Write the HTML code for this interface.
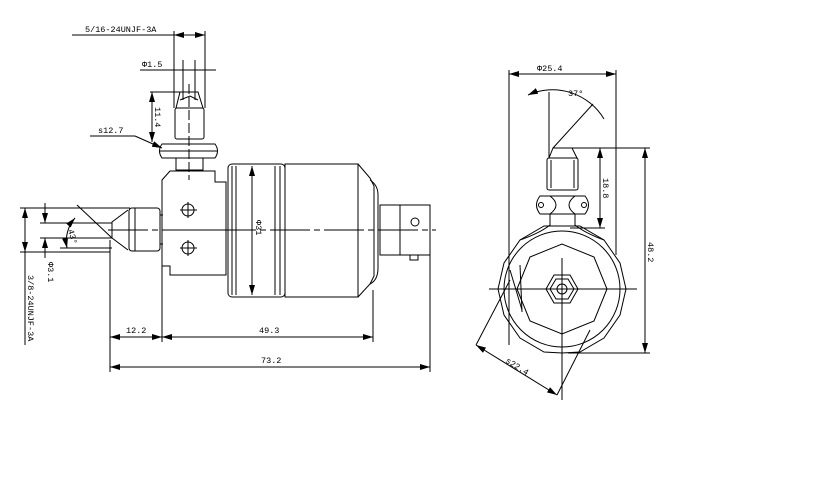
<!DOCTYPE html>
<html><head><style>html,body{margin:0;padding:0;background:#fff}svg{display:block}text{font-family:"Liberation Mono",monospace;font-size:8.5px;fill:#000}</style></head><body>
<svg width="820" height="481" viewBox="0 0 820 481" xmlns="http://www.w3.org/2000/svg">
<defs><marker id="a" viewBox="0 0 10 6" refX="10" refY="3" markerWidth="10" markerHeight="6" orient="auto-start-reverse"><path d="M0,0L10,3L0,6z" fill="#000"/></marker></defs>
<g stroke="#000" stroke-width="1" fill="none">
<line x1="72" y1="35" x2="174" y2="35"/>
<line x1="174" y1="35" x2="205" y2="35" marker-start="url(#a)" marker-end="url(#a)"/>
<line x1="174" y1="31" x2="174" y2="108"/><line x1="205" y1="31" x2="205" y2="108"/>
<line x1="140" y1="70" x2="216" y2="70"/>
<line x1="183" y1="60" x2="183" y2="100"/><line x1="195" y1="60" x2="195" y2="100"/>
<line x1="150" y1="92" x2="185" y2="92"/>
<line x1="152" y1="92" x2="152" y2="142" marker-start="url(#a)" marker-end="url(#a)"/>
<line x1="90" y1="136" x2="135" y2="136"/><line x1="135" y1="136" x2="162" y2="148" marker-end="url(#a)"/>
<path d="M176,108 L180,92 L198,92 L203,108 Z"/>
<path d="M180,100 L190,96 L198,100"/>
<rect x="175" y="108" width="29" height="31" rx="2"/>
<path d="M162,144 L215,144 Q220,151 215,158 L162,158 Q157,151 162,144 Z"/>
<line x1="160" y1="151" x2="217" y2="151"/>
<rect x="176" y="158" width="27" height="12"/>
<line x1="189" y1="84" x2="189" y2="180" stroke-dasharray="10,3"/>
<path d="M170,171 L215,171 L215,182 L226,182 L226,275 L170,275 L170,266 L162,266 L162,180 Z"/>
<line x1="162" y1="230" x2="226" y2="230"/>
<circle cx="188" cy="210" r="6"/><line x1="180" y1="210" x2="197" y2="210"/><line x1="188" y1="202" x2="188" y2="218"/>
<circle cx="188" cy="248" r="6"/><line x1="180" y1="248" x2="197" y2="248"/><line x1="188" y1="240" x2="188" y2="256"/>
<path d="M128,210 L112,222 L112,238 L128,250"/>
<rect x="129" y="208" width="31" height="43" rx="3"/>
<line x1="135" y1="208" x2="135" y2="251"/>
<line x1="160" y1="215" x2="163" y2="215"/><line x1="160" y1="244" x2="163" y2="244"/>
<rect x="228" y="164" width="57" height="133" rx="4"/>
<line x1="232" y1="166" x2="232" y2="295"/><line x1="236" y1="166" x2="236" y2="295"/>
<line x1="275" y1="166" x2="275" y2="295"/><line x1="280" y1="166" x2="280" y2="295"/>
<rect x="285" y="164" width="73" height="133"/>
<path d="M358,164 L370,178 L374,186 L374,276 L370,284 L358,297"/>
<path d="M370,180 Q378,185 378,195 L378,268 Q378,280 370,284"/>
<rect x="380" y="205" width="50" height="50"/>
<line x1="400" y1="205" x2="400" y2="255"/>
<circle cx="415" cy="222" r="4"/>
<rect x="410" y="255" width="8" height="5"/>
<line x1="108" y1="230" x2="436" y2="230" stroke-dasharray="40,4,6,4"/>
<line x1="252" y1="166" x2="252" y2="295" marker-start="url(#a)" marker-end="url(#a)"/>
<line x1="20" y1="208" x2="130" y2="208"/><line x1="20" y1="252" x2="110" y2="252"/>
<line x1="25" y1="208" x2="25" y2="252" marker-start="url(#a)" marker-end="url(#a)"/>
<line x1="25" y1="252" x2="25" y2="345"/>
<line x1="40" y1="223" x2="112" y2="223"/><line x1="40" y1="238" x2="112" y2="238"/>
<line x1="45" y1="203" x2="45" y2="223" marker-end="url(#a)"/><line x1="45" y1="238" x2="45" y2="258" marker-start="url(#a)"/>
<line x1="77" y1="205" x2="112" y2="238"/>
<path d="M75,218 A35,35 0 0 0 67,248" marker-start="url(#a)" marker-end="url(#a)"/>
<line x1="60" y1="248" x2="112" y2="248"/>
<line x1="110" y1="240" x2="110" y2="372"/><line x1="162" y1="266" x2="162" y2="342"/>
<line x1="373" y1="290" x2="373" y2="342"/><line x1="430" y1="255" x2="430" y2="372"/>
<line x1="110" y1="337" x2="162" y2="337" marker-start="url(#a)" marker-end="url(#a)"/>
<line x1="162" y1="337" x2="373" y2="337" marker-start="url(#a)" marker-end="url(#a)"/>
<line x1="110" y1="367" x2="430" y2="367" marker-start="url(#a)" marker-end="url(#a)"/>
<line x1="509" y1="74" x2="616" y2="74" marker-start="url(#a)" marker-end="url(#a)"/>
<line x1="509" y1="70" x2="509" y2="345"/><line x1="616" y1="70" x2="616" y2="255"/>
<polygon points="626,289 620,315 604,338 580,352 562,353 544,352 520,338 504,315 498,289 504,263 520,240 544,226 580,226 604,240 620,263"/>
<circle cx="562" cy="289" r="58"/>
<polygon points="607,289 594,321 562,334 530,321 517,289 530,257 562,244 594,257"/>
<polygon points="578,289 570,303 554,303 546,289 554,275 570,275"/>
<polygon points="574,289 568,299 556,299 550,289 556,279 568,279"/>
<circle cx="562" cy="289" r="5"/>
<line x1="489" y1="289" x2="637" y2="289"/><line x1="562" y1="258" x2="562" y2="400"/>
<line x1="510" y1="270" x2="522" y2="310"/><line x1="520" y1="265" x2="522" y2="312"/>
<path d="M549,158 L553,148 L572,148 L577,158 Z"/>
<rect x="547" y="158" width="31" height="32" rx="2"/>
<line x1="551" y1="160" x2="551" y2="188"/><line x1="574" y1="160" x2="574" y2="188"/>
<path d="M540,196 L585,196 Q592,205 585,214 L540,214 Q533,205 540,196 Z"/>
<path d="M550,196 Q562,205 550,214 M575,196 Q563,205 575,214"/>
<circle cx="541" cy="205" r="2.5"/><circle cx="584" cy="205" r="2.5"/>
<path d="M550,214 L550,225 Q540,233 520,240 M575,214 L575,225 Q585,233 604,240"/>
<line x1="549" y1="92" x2="549" y2="158"/><line x1="553" y1="148" x2="593" y2="104"/>
<path d="M528,95 A60,60 0 0 1 604,119" marker-start="url(#a)"/>
<line x1="570" y1="148" x2="650" y2="148"/><line x1="570" y1="228" x2="605" y2="228"/>
<line x1="568" y1="353" x2="650" y2="353"/>
<line x1="600" y1="148" x2="600" y2="228" marker-start="url(#a)" marker-end="url(#a)"/>
<line x1="645" y1="148" x2="645" y2="353" marker-start="url(#a)" marker-end="url(#a)"/>
<line x1="476" y1="345" x2="557" y2="395" marker-start="url(#a)" marker-end="url(#a)"/>
<line x1="476" y1="345" x2="510" y2="280"/><line x1="557" y1="395" x2="590" y2="330"/>
</g>
<text x="85" y="32">5/16-24UNJF-3A</text>
<text x="142" y="67">Φ1.5</text>
<text x="98" y="133">s12.7</text>
<text x="126" y="333">12.2</text>
<text x="259" y="333">49.3</text>
<text x="261" y="363">73.2</text>
<text x="537" y="71">Φ25.4</text>
<text x="568" y="96">37°</text>
<text transform="translate(155,107) rotate(90)">11.4</text>
<text transform="translate(256,220) rotate(90)">Φ31</text>
<text transform="translate(48,262) rotate(90)">Φ3.1</text>
<text transform="translate(28,275) rotate(90)">3/8-24UNJF-3A</text>
<text transform="translate(68,230) rotate(75)">43°</text>
<text transform="translate(603,178) rotate(90)">18.8</text>
<text transform="translate(648,242) rotate(90)">48.2</text>
<text transform="translate(505,362) rotate(32)">s22.4</text>
</svg>
</body></html>
